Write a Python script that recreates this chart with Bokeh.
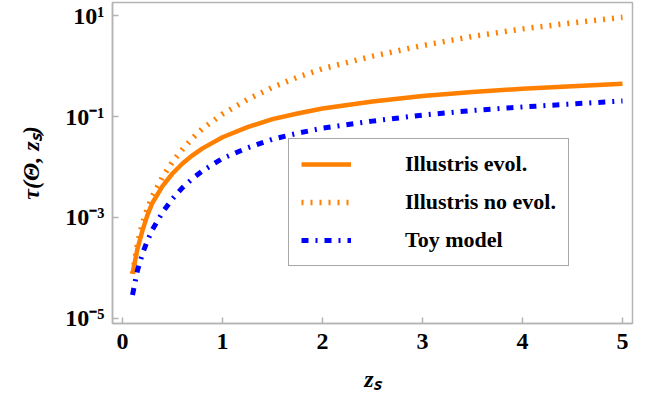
from bokeh.plotting import figure
from bokeh.models import FixedTicker, Legend, LegendItem, Range1d
from bokeh.embed import file_html
from bokeh.resources import INLINE

# redshift grid
z_s = [0.1, 0.15, 0.2, 0.25, 0.3, 0.4, 0.5, 0.6, 0.7, 0.8, 1.0,
       1.25, 1.5, 1.75, 2.0, 2.5, 3.0, 3.5, 4.0, 4.5, 5.0]

# optical depth tau(Theta, z_s)
tau_illustris_evol = [7.59e-5, 2.40e-4, 5.50e-4, 1.12e-3, 1.95e-3, 4.17e-3, 7.41e-3,
                      1.17e-2, 1.70e-2, 2.34e-2, 3.89e-2, 6.17e-2, 8.91e-2, 0.115,
                      0.145, 0.200, 0.257, 0.309, 0.355, 0.398, 0.447]
tau_illustris_noevol = [7.59e-5, 3.02e-4, 7.59e-4, 1.51e-3, 2.63e-3, 6.31e-3, 1.26e-2,
                        2.24e-2, 3.72e-2, 5.75e-2, 0.112, 0.219, 0.380, 0.603,
                        0.891, 1.58, 2.57, 3.89, 5.50, 7.24, 9.33]
tau_toy_model = [2.88e-5, 8.91e-5, 1.91e-4, 3.47e-4, 5.75e-4, 1.26e-3, 2.34e-3,
                 3.89e-3, 5.89e-3, 8.32e-3, 1.48e-2, 2.40e-2, 3.55e-2, 4.68e-2,
                 5.89e-2, 8.13e-2, 0.107, 0.132, 0.155, 0.178, 0.204]

series_names = ["Illustris evol.", "Illustris no evol.", "Toy model"]

x_ticks = [0, 1, 2, 3, 4, 5]
y_ticks = [1e-5, 1e-3, 1e-1, 10.0]
y_tick_labels = ["10\u207b\u2075", "10\u207b\u00b3", "10\u207b\u00b9", "10\u00b9"]

FONT = "Liberation Serif"
FRAME = "#b4b4b4"

p = figure(width=648, height=398, y_axis_type="log",
           x_range=Range1d(-0.1, 5.1), y_range=Range1d(10 ** -5.107, 10 ** 1.264),
           output_backend="svg", toolbar_location=None,
           min_border_left=112, min_border_right=16, min_border_top=2, min_border_bottom=75)

p.grid.visible = False
p.outline_line_color = FRAME
p.outline_line_width = 1.5
p.background_fill_color = "white"
p.border_fill_color = "white"

r1 = p.line(z_s, tau_illustris_evol, line_color="#ff8000", line_width=4.5,
            line_join="round")
r2 = p.line(z_s, tau_illustris_noevol, line_color="#ff8000", line_width=5.5,
            line_dash="2 7", line_cap="butt", line_join="round")
r3 = p.line(z_s, tau_toy_model, line_color="#0000ff", line_width=5,
            line_dash="7 7 2 7", line_cap="butt", line_join="round")

for ax in (p.xaxis[0], p.yaxis[0]):
    ax.axis_line_color = FRAME
    ax.axis_line_width = 1.5
    ax.major_tick_line_color = FRAME
    ax.major_tick_line_width = 1.5
    ax.major_tick_in = 6
    ax.major_tick_out = 0
    ax.minor_tick_line_color = None
    ax.major_label_text_font = FONT
    ax.major_label_text_font_style = "bold"
    ax.major_label_text_font_size = "24px"
    ax.major_label_text_color = "black"
    ax.axis_label_text_font = FONT
    ax.axis_label_text_font_style = "bold italic"
    ax.axis_label_text_font_size = "24px"
    ax.axis_label_text_color = "black"

p.xaxis.ticker = FixedTicker(ticks=x_ticks)
p.xaxis.major_label_standoff = 10
p.xaxis.axis_label = "z\u209b"
p.xaxis.axis_label_standoff = 14

p.yaxis.ticker = FixedTicker(ticks=y_ticks)
p.yaxis.major_label_overrides = dict(zip(y_ticks, y_tick_labels))
p.yaxis.major_label_standoff = 8
p.yaxis.axis_label = "\u03c4(\u0398, z\u209b)"
p.yaxis.axis_label_standoff = 18

legend = Legend(items=[LegendItem(label=series_names[0], renderers=[r1]),
                       LegendItem(label=series_names[1], renderers=[r2]),
                       LegendItem(label=series_names[2], renderers=[r3])],
                location=(176, 57))
legend.border_line_color = "#505050"
legend.border_line_width = 1.2
legend.background_fill_color = "white"
legend.background_fill_alpha = 1.0
legend.padding = 12
legend.spacing = 12
legend.margin = 0
legend.glyph_width = 50
legend.glyph_height = 22
legend.label_height = 22
legend.label_width = 132
legend.label_standoff = 54
legend.label_text_font = FONT
legend.label_text_font_style = "bold"
legend.label_text_font_size = "22px"
legend.label_text_color = "black"
p.add_layout(legend, "center")

open("out.html", "w").write(file_html(p, INLINE))
